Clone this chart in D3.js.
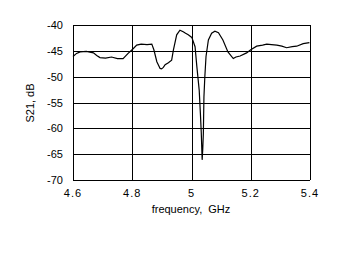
<!DOCTYPE html>
<html>
<head>
<meta charset="utf-8">
<script src="https://cdn.jsdelivr.net/npm/d3@7"></script>
<style>
  body { margin: 0; background: #fff; }
  svg { display: block; font-family: "Liberation Sans", Arial, sans-serif; }
</style>
</head>
<body>
<div id="chart"></div>
<script>
const freq = [4.600, 4.612, 4.624, 4.645, 4.669, 4.680, 4.691, 4.710, 4.730, 4.750, 4.769, 4.786,
  4.803, 4.815, 4.830, 4.850, 4.866, 4.873, 4.883, 4.894, 4.899, 4.905, 4.911, 4.922, 4.933, 4.939,
  4.950, 4.961, 4.972, 4.980, 4.989, 5.001, 5.012, 5.018, 5.026, 5.030, 5.033, 5.036, 5.038, 5.040,
  5.042, 5.045, 5.049, 5.057, 5.068, 5.079, 5.091, 5.106, 5.123, 5.141, 5.150, 5.164, 5.186, 5.200,
  5.220, 5.240, 5.254, 5.270, 5.288, 5.305, 5.321, 5.340, 5.355, 5.377, 5.398];
const s21 = [-46.1, -45.5, -45.2, -45.1, -45.4, -45.9, -46.3, -46.4, -46.2, -46.5, -46.5, -45.5,
  -44.6, -43.9, -43.7, -43.8, -43.7, -44.8, -47.1, -48.4, -48.5, -48.2, -47.7, -47.3, -46.8, -44.8,
  -41.9, -41.0, -41.3, -41.6, -41.9, -42.4, -44.2, -48.0, -52.6, -57.1, -60.9, -66.1, -64.0, -61.0,
  -53.9, -50.0, -46.1, -42.9, -41.6, -41.2, -41.5, -42.9, -45.2, -46.5, -46.2, -46.0, -45.4, -44.8,
  -44.1, -43.9, -43.7, -43.8, -43.9, -44.1, -44.4, -44.2, -44.1, -43.6, -43.4];
const xTicks = [4.6, 4.8, 5, 5.2, 5.4];
const yTicks = [-40, -45, -50, -55, -60, -65, -70];

const W = 347, H = 257;
const pLeft = 73, pRight = 310, pTop = 25, pBottom = 180;

const svg = d3.select("#chart").append("svg")
    .attr("width", W)
    .attr("height", H);

const x = d3.scaleLinear().domain([4.6, 5.4]).range([pLeft, pRight]);
const y = d3.scaleLinear().domain([-70, -40]).range([pBottom, pTop]);

// grid
svg.selectAll(".gx")
    .data(xTicks)
    .enter().append("line")
    .attr("x1", d => Math.round(x(d)) + 0.5)
    .attr("x2", d => Math.round(x(d)) + 0.5)
    .attr("y1", pTop)
    .attr("y2", pBottom)
    .attr("stroke", "#000");

svg.selectAll(".gy")
    .data(yTicks)
    .enter().append("line")
    .attr("x1", pLeft)
    .attr("x2", pRight)
    .attr("y1", d => Math.round(y(d)) + 0.5)
    .attr("y2", d => Math.round(y(d)) + 0.5)
    .attr("stroke", "#000");

// the trace
const line = d3.line()
    .x((d, i) => x(freq[i]))
    .y(d => y(d));

svg.append("path")
    .datum(s21)
    .attr("d", line)
    .attr("fill", "none")
    .attr("stroke", "#000")
    .attr("stroke-width", 1.2);

// tick labels
svg.selectAll(".yl")
    .data(yTicks)
    .enter().append("text")
    .attr("x", 63)
    .attr("y", d => y(d))
    .attr("text-anchor", "end")
    .attr("dominant-baseline", "central")
    .style("font-size", "11px")
    .text(d => d);

svg.selectAll(".xl")
    .data(xTicks)
    .enter().append("text")
    .attr("x", d => x(d))
    .attr("y", 193)
    .attr("text-anchor", "middle")
    .attr("dominant-baseline", "central")
    .style("font-size", "11px")
    .style("letter-spacing", "1px")
    .text(d => d);

// axis titles
svg.append("text")
    .attr("x", 191)
    .attr("y", 209)
    .attr("text-anchor", "middle")
    .attr("dominant-baseline", "central")
    .style("font-size", "11px")
    .style("white-space", "pre")
    .text("frequency,  GHz");

svg.append("text")
    .attr("transform", "translate(30,103) rotate(-90)")
    .attr("text-anchor", "middle")
    .attr("dominant-baseline", "central")
    .style("font-size", "11px")
    .text("S21, dB");
</script>
</body>
</html>
